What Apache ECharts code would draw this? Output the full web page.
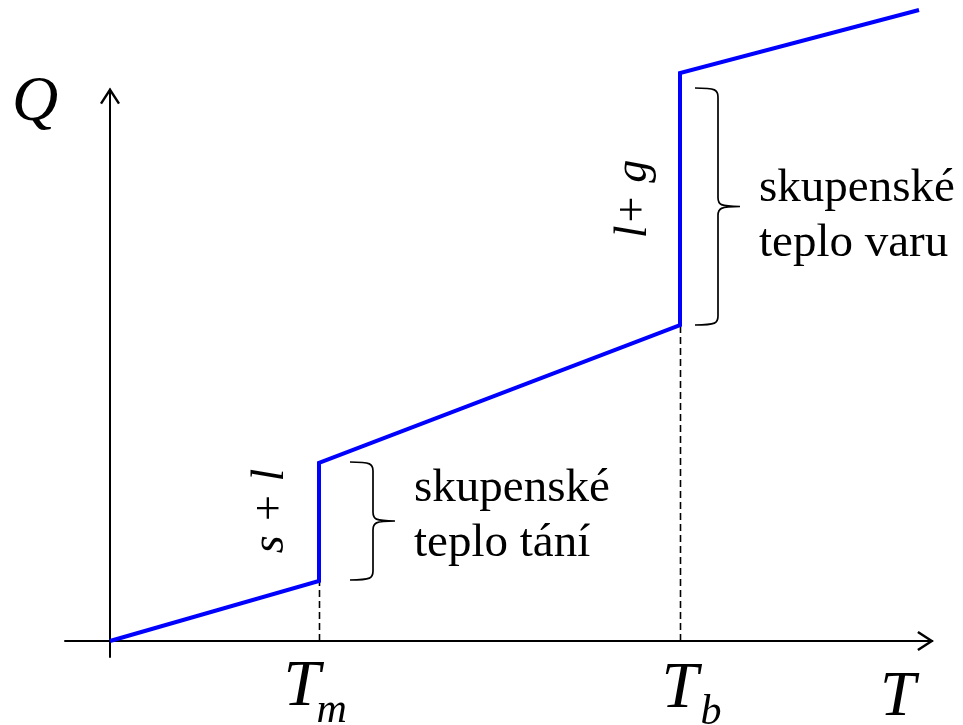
<!DOCTYPE html>
<html>
<head>
<meta charset="utf-8">
<script src="https://cdn.jsdelivr.net/npm/echarts@6/dist/echarts.min.js"></script>
<style>
  html, body { margin: 0; padding: 0; background: #fff; }
  #chart { width: 963px; height: 725px; }
</style>
</head>
<body>
<div id="chart"></div>
<script>
// heating curve Q(T), arbitrary units
var tValues = [0, 2.09, 2.09, 5.70, 5.70, 8.09];
var qValues = [0, 0.60, 1.78, 3.16, 5.68, 6.31];

// dashed drops from the phase changes to the T axis
var dropT = [2.095, 5.705];
var dropQ = [0.60, 3.16];

// braces next to the jumps: [t, qLow, qHigh]
var braceT = [2.40, 5.85];
var braceLow = [0.61, 3.16];
var braceHigh = [1.79, 5.53];

var tickNames = ['T', 'T'];
var tickSubs = ['m', 'b'];

var serif = '"Liberation Serif", "Times New Roman", serif';
var arrowPath = 'path://M10,0 L20,15.4 L18,16.8 L10,4.4 L2,16.8 L0,15.4 Z M9,1 L11,1 L11,17 L9,17 Z';

var chartDom = document.getElementById('chart');
var myChart = echarts.init(chartDom);

var curve = tValues.map(function (t, i) { return [t, qValues[i]]; });

var series = [];
dropT.forEach(function (t, i) {
  series.push({
    type: 'line',
    data: [[t, 0], [t, dropQ[i]]],
    symbol: 'none',
    silent: true,
    z: 2,
    lineStyle: { color: '#000', width: 1.6, type: [7, 4] }
  });
});

series.push({
  type: 'line',
  data: curve,
  symbol: 'none',
  clip: false,
  silent: true,
  z: 3,
  lineStyle: { color: '#0000ff', width: 4, join: 'miter' }
});

/* Curly braces beside the two jumps */
series.push({
  type: 'custom',
  data: braceT.map(function (t, i) { return [t, braceLow[i], braceHigh[i]]; }),
  encode: { x: 0, y: [1, 2] },
  silent: true,
  z: 4,
  renderItem: function (params, api) {
    var top = api.coord([api.value(0), api.value(2)]);
    var bot = api.coord([api.value(0), api.value(1)]);
    var x = top[0], y0 = top[1], y1 = bot[1];
    var m = (y0 + y1) / 2;
    var s = x + 23, tip = x + 45, r = 9;
    var d = 'M' + x + ',' + y0 +
      ' C' + (s - 2) + ',' + y0 + ' ' + s + ',' + (y0 + 2) + ' ' + s + ',' + (y0 + r) +
      ' L' + s + ',' + (m - r) +
      ' C' + s + ',' + (m - 2) + ' ' + (s + 2) + ',' + m + ' ' + tip + ',' + m +
      ' C' + (s + 2) + ',' + m + ' ' + s + ',' + (m + 2) + ' ' + s + ',' + (m + r) +
      ' L' + s + ',' + (y1 - r) +
      ' C' + s + ',' + (y1 - 2) + ' ' + (s - 2) + ',' + y1 + ' ' + x + ',' + y1;
    return {
      type: 'path',
      shape: { pathData: d },
      style: { stroke: '#000', fill: null, lineWidth: 1.7 }
    };
  }
});

var option = {
  animation: false,
  grid: { left: 65, right: 37.5, top: 96, bottom: 68 },
  xAxis: {
    type: 'value',
    min: -0.45,
    max: 8.155,
    axisLine: {
      onZero: true,
      lineStyle: { color: '#000', width: 2 },
      symbol: ['none', arrowPath],
      symbolSize: [20, 17]
    },
    axisTick: { show: false },
    axisLabel: { show: false },
    splitLine: { show: false }
  },
  yAxis: {
    type: 'value',
    min: -0.16,
    max: 5.45,
    axisLine: {
      onZero: true,
      lineStyle: { color: '#000', width: 2 },
      symbol: ['none', arrowPath],
      symbolSize: [20, 17]
    },
    axisTick: { show: false },
    axisLabel: { show: false },
    splitLine: { show: false }
  },
  series: series
};

option && myChart.setOption(option);

/* Labels */
function txt(x, y, text, size, italic, extra) {
  var st = {
    text: text,
    font: (italic ? 'italic ' : '') + size + 'px ' + serif,
    fill: '#000',
    align: 'left',
    verticalAlign: 'middle'
  };
  for (var k in extra) { st[k] = extra[k]; }
  return { type: 'text', x: x, y: y, silent: true, style: st };
}

var labels = [
  txt(12, 103.5, 'Q', 64, true),
  txt(880, 698.5, 'T', 64, true),
  txt(414, 461, 'skupenské\nteplo tání', 47, false, { verticalAlign: 'top', lineHeight: 55 }),
  txt(759, 161, 'skupenské\nteplo varu', 47, false, { verticalAlign: 'top', lineHeight: 55 })
];

// T_m, T_b under the dashed drops
var mainOff = [[-36, 688], [-19, 690]];
var subOff = [[-3, 711], [20, 713]];
dropT.forEach(function (t, i) {
  var p = myChart.convertToPixel({ gridIndex: 0 }, [t, 0]);
  labels.push(txt(p[0] + mainOff[i][0], mainOff[i][1], tickNames[i], 66, true));
  labels.push(txt(p[0] + subOff[i][0], subOff[i][1], tickSubs[i], 42, true));
});

var sl = txt(271, 511, 's + l', 46, true, { align: 'center' });
sl.rotation = Math.PI / 2;
var lg = txt(634, 199, 'l+ g', 46, true, { align: 'center' });
lg.rotation = Math.PI / 2;
labels.push(sl, lg);

myChart.setOption({ graphic: labels });
</script>
</body>
</html>
